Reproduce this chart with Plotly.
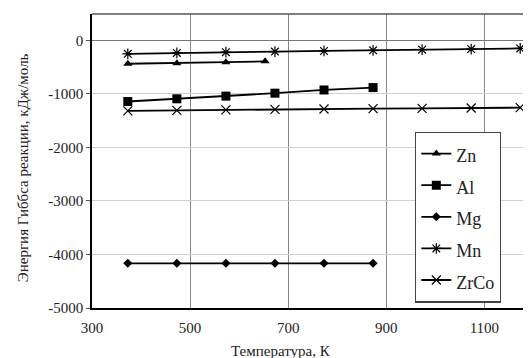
import plotly.graph_objects as go

# Data
T_all = [373, 473, 573, 673, 773, 873, 973, 1073, 1173]
T_zn = [373, 473, 573, 653]
T_al = [373, 473, 573, 673, 773, 873]
T_mg = [373, 473, 573, 673, 773, 873]

zn = [-435, -425, -405, -390]
al = [-1140, -1090, -1040, -985, -925, -880]
mg = [-4165, -4165, -4165, -4165, -4165, -4165]
mn = [-250, -232, -218, -208, -196, -184, -172, -160, -148]
zrco = [-1316, -1305, -1298, -1288, -1280, -1274, -1268, -1262, -1256]

x_ticks = [300, 500, 700, 900, 1100]
y_ticks = [0, -1000, -2000, -3000, -4000, -5000]

FONT = "Liberation Serif, Times New Roman, serif"

def lbl(s):
    return '<span style="font-size:18px">' + s + '</span>'

fig = go.Figure()
line = dict(color="black", width=1.8)
fig.add_trace(go.Scatter(x=T_zn, y=zn, name=lbl("Zn"), mode="lines+markers", line=line,
                         marker=dict(symbol="triangle-up", size=8, color="black")))
fig.add_trace(go.Scatter(x=T_al, y=al, name=lbl("Al"), mode="lines+markers", line=line,
                         marker=dict(symbol="square", size=9, color="black")))
fig.add_trace(go.Scatter(x=T_mg, y=mg, name=lbl("Mg"), mode="lines+markers", line=line,
                         marker=dict(symbol="diamond", size=7, color="black")))
fig.add_trace(go.Scatter(x=T_all, y=mn, name=lbl("Mn"), mode="lines+markers", line=line,
                         marker=dict(symbol="asterisk-open", size=9, color="black",
                                     line=dict(color="black", width=1.2))))
fig.add_trace(go.Scatter(x=T_all, y=zrco, name=lbl("ZrCo"), mode="lines+markers", line=line,
                         marker=dict(symbol="x-thin-open", size=9, color="black",
                                     line=dict(color="black", width=1.2))))

# The page body has an 8px margin, so the figure is sized/margined to compensate.
fig.update_layout(
    width=523, height=350,
    margin=dict(l=84, r=0, t=6, b=50),
    paper_bgcolor="white", plot_bgcolor="white",
    font=dict(family=FONT, color="#222", size=15),
    showlegend=True,
    legend=dict(x=0.736, y=0.6, xanchor="left", yanchor="top",
                bordercolor="#444", borderwidth=1.2, bgcolor="white",
                font=dict(family=FONT, size=22, color="#222"),
                tracegroupgap=0),
    xaxis=dict(range=[300, 1195], tickvals=x_ticks, ticktext=[str(v) for v in x_ticks],
               showgrid=True, gridcolor="#888", gridwidth=1,
               showline=True, linecolor="black", linewidth=1.5,
               ticks="", ticklabelstandoff=5, zeroline=False,
               tickfont=dict(family=FONT, size=15, color="#222")),
    yaxis=dict(range=[-5000, 495], tickvals=y_ticks, ticktext=[str(v) for v in y_ticks],
               showgrid=True, gridcolor="#d0d0d0", gridwidth=1,
               zeroline=True, zerolinecolor="#777", zerolinewidth=1.2,
               showline=True, linecolor="black", linewidth=1.5,
               ticks="outside", ticklen=4, tickcolor="#555",
               tickfont=dict(family=FONT, size=15, color="#222")),
    annotations=[
        dict(text="Температура, К", xref="paper", yref="paper", x=0.43, y=-0.145,
             xanchor="center", yanchor="middle", showarrow=False,
             font=dict(family=FONT, size=15, color="#222")),
        dict(text="Энергия Гиббса реакции, кДж/моль", xref="paper", yref="paper",
             x=-0.157, y=0.476, xanchor="center", yanchor="middle", textangle=-90,
             showarrow=False, font=dict(family=FONT, size=15, color="#222")),
    ],
    shapes=[dict(type="line", xref="paper", yref="paper", x0=0, x1=1, y0=1, y1=1,
                 line=dict(color="#555", width=1.5))],
)

fig.write_html("out.html")
